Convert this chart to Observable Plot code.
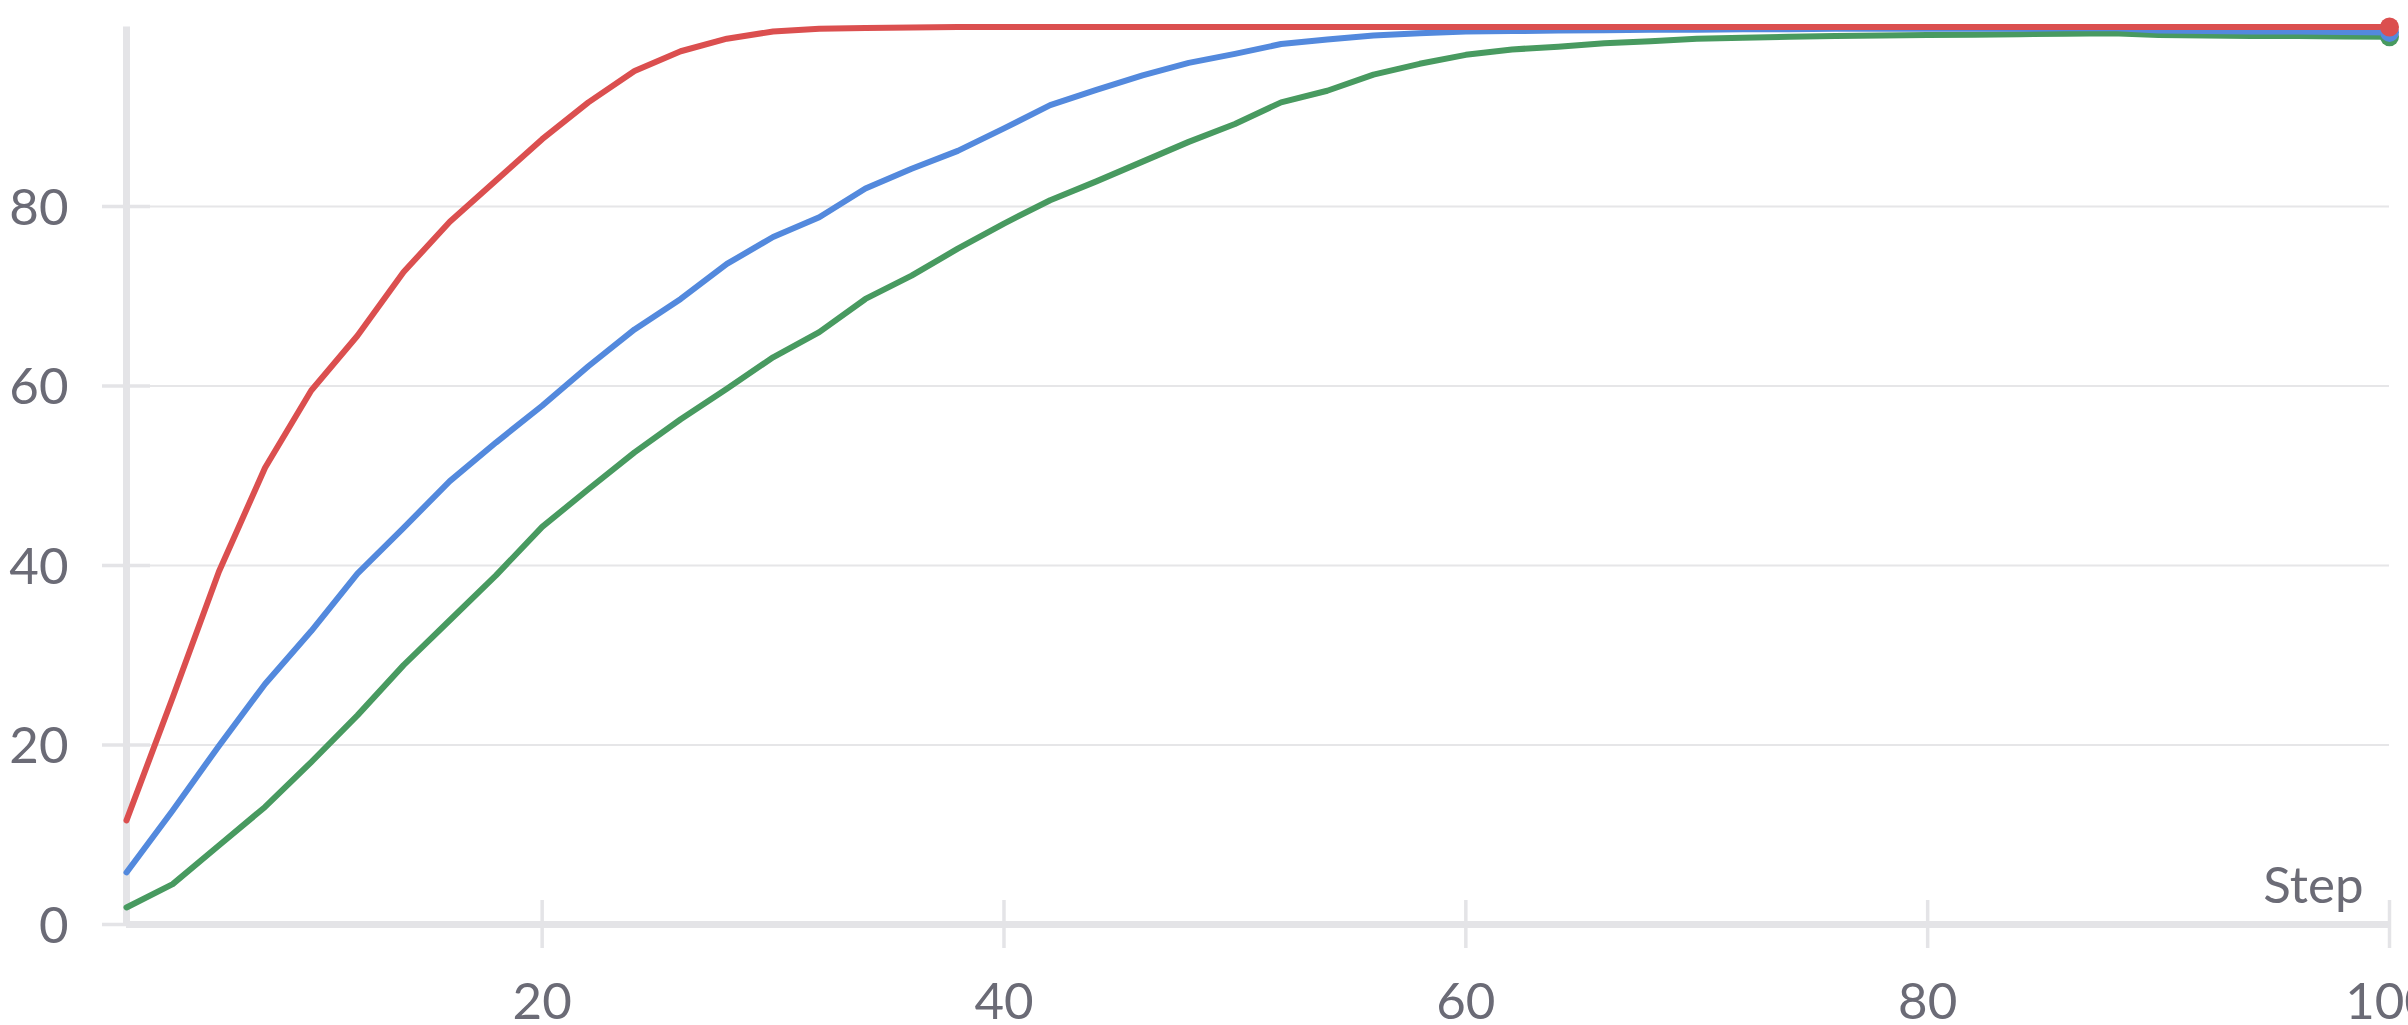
<!DOCTYPE html>
<html>
<head>
<meta charset="utf-8">
<script src="https://cdn.jsdelivr.net/npm/d3@7"></script>
<script src="https://cdn.jsdelivr.net/npm/@observablehq/plot@0.6"></script>
<style>
  html, body { margin: 0; padding: 0; background: #ffffff; overflow: hidden; }
  #chart svg { display: block; }
</style>
</head>
<body>
<div id="chart"></div>
<script>
const steps = [2,4,6,8,10,12,14,16,18,20,22,24,26,28,30,32,34,36,38,40,42,44,46,48,50,52,54,56,58,60,62,64,66,68,70,72,74,76,78,80,82,84,86,88,90,92,94,96,98,100];

const runA = [11.6,25.3,39.3,50.9,59.5,65.6,72.7,78.3,82.9,87.5,91.6,95.1,97.3,98.7,99.5,99.8,99.9,99.95,100,100,100,100,100,100,100,100,100,100,100,100,100,100,100,100,100,100,100,100,100,100,100,100,100,100,100,100,100,100,100,100];

const runB = [5.8,12.7,19.9,26.8,32.7,39.1,44.2,49.4,53.7,57.8,62.2,66.3,69.7,73.6,76.6,78.8,82.0,84.2,86.2,88.7,91.3,93.0,94.6,96.0,97.0,98.1,98.6,99.05,99.3,99.5,99.55,99.6,99.65,99.7,99.7,99.75,99.75,99.8,99.8,99.8,99.8,99.8,99.85,99.9,99.6,99.55,99.5,99.5,99.45,99.4];

const runC = [1.9,4.5,8.8,13.1,18.1,23.3,28.9,33.9,38.9,44.3,48.5,52.6,56.3,59.7,63.2,66.0,69.7,72.3,75.3,78.1,80.7,82.8,85.0,87.2,89.2,91.6,92.9,94.7,95.9,96.9,97.5,97.8,98.2,98.4,98.7,98.8,98.9,99.0,99.05,99.1,99.15,99.2,99.25,99.3,99.1,99.05,99.0,99.0,98.95,98.9];

// drawing order: C (bottom), B, A (top)
const seriesNames = ["run C", "run B", "run A"];
const seriesColors = ["#489a60", "#5389dd", "#db4f4f"];

const xTicks = [20, 40, 60, 80, 100];
const yTicks = [0, 20, 40, 60, 80];
const yGrid = [20, 40, 60, 80];
const xAxisLabel = "Step";

const seriesValues = {"run A": runA, "run B": runB, "run C": runC};
const rows = [];
for (const name of seriesNames) {
  seriesValues[name].forEach((v, i) => rows.push({series: name, step: steps[i], value: v}));
}
const lastRows = seriesNames.map(name => ({series: name, step: steps[steps.length - 1], value: seriesValues[name][steps.length - 1]}));

const axisColor = "#e4e4e7";
const textColor = "#6b6b76";
const fs = 51;

const chart = Plot.plot({
  width: 2408,
  height: 1025,
  marginLeft: 126,
  marginRight: 19,
  marginTop: 26.5,
  marginBottom: 101,
  x: {domain: [2, 100], axis: null},
  y: {domain: [0, 100], axis: null},
  color: {type: "categorical", domain: seriesNames, range: seriesColors},
  style: {background: "#ffffff", fontFamily: "Lato, 'Open Sans', sans-serif", overflow: "visible"},
  marks: [
    Plot.ruleY(yGrid, {y: d => d, stroke: "#e6e6e8", strokeWidth: 2}),
    Plot.ruleY(yTicks, {y: d => d, x1: 2, x2: 2, insetLeft: -24, insetRight: -24, stroke: axisColor, strokeWidth: 3.5}),
    Plot.ruleX(xTicks, {x: d => d, y1: 0, y2: 0, insetTop: -24, insetBottom: -24, stroke: axisColor, strokeWidth: 3.5}),
    Plot.ruleX([2], {x: d => d, y1: 0, y2: 100, stroke: axisColor, strokeWidth: 7}),
    Plot.ruleY([0], {y: d => d, x1: 2, x2: 100, stroke: axisColor, strokeWidth: 7}),
    Plot.text(yTicks, {x: 2, y: d => d, text: d => String(d), textAnchor: "end", dx: -58, dy: 2, fontSize: fs, fill: textColor}),
    Plot.text(xTicks, {x: d => d, y: 0, text: d => String(d), dy: 78, fontSize: fs, fill: textColor}),
    Plot.text([xAxisLabel], {x: 100, y: 0, text: d => d, textAnchor: "end", dx: -26, dy: -38, fontSize: fs, fill: textColor}),
    Plot.line(rows, {x: "step", y: "value", z: "series", stroke: "series", strokeWidth: 6}),
    Plot.dot(lastRows, {x: "step", y: "value", fill: "series", r: 9.5, stroke: null})
  ]
});
document.getElementById("chart").appendChild(chart);
</script>
</body>
</html>
